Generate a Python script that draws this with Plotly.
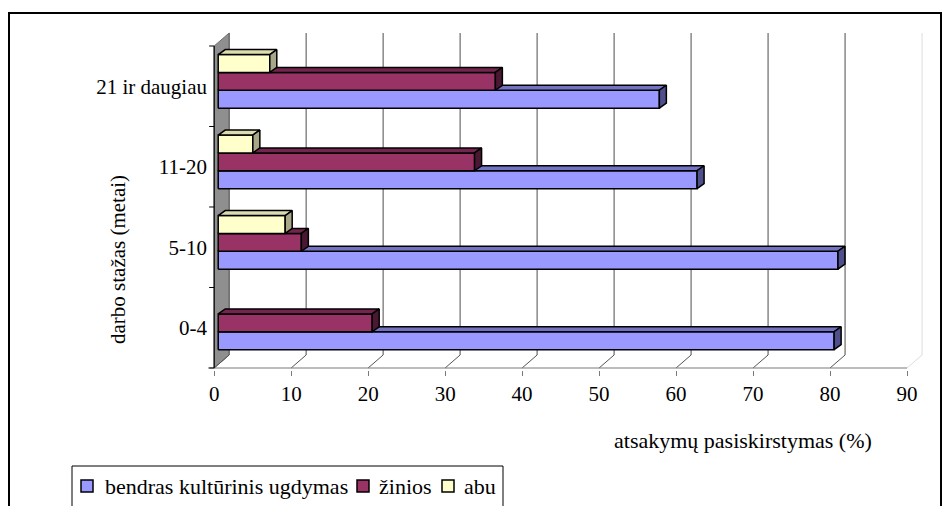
import plotly.graph_objects as go

# Work experience groups (bottom to top) and answer shares in percent
categories = ["0-4", "5-10", "11-20", "21 ir daugiau"]
bendras = [80.0, 80.5, 62.2, 57.3]
zinios = [20.0, 10.8, 33.3, 36.0]
abu = [0.0, 8.7, 4.5, 6.7]

series_names = ["bendras kultūrinis ugdymas", "žinios", "abu"]
x_ticks = [0, 10, 20, 30, 40, 50, 60, 70, 80, 90]

# Canvas / plot geometry
W, H = 942, 506
L, R, T, B = 208, 18, 31, 136
PW, PH = W - L - R, H - T - B
XR = [-0.8, 92.2]
UX = PW / (XR[1] - XR[0])          # px per x unit
UY = 80.5                          # px per category step
YR = [-0.525, -0.525 + PH / UY]

DX, DY = 15 / UX, 13 / UY          # depth of the 3-D box (data units)
BX0 = 0.27 * DX                    # bars start slightly inside the box
DXB, DYB = 7 / UX, 5 / UY          # depth of a bar
BAR_W = 0.222
slots = [-0.272, -0.050, 0.172]

FONT = "'Liberation Serif', 'Times New Roman', 'DejaVu Serif', serif"
face_cols = [
    ("#9999FF", "#7373C4", "#4F4F8C"),
    ("#993366", "#73264D", "#4A1832"),
    ("#FFFFCC", "#DCDCB0", "#A8A888"),
]


def px_x(px):
    return (px - L) / PW


def px_y(py):
    return 1 - (py - T) / PH


def add_poly(xs, ys, pts):
    for p in pts + [pts[0]]:
        xs.append(p[0])
        ys.append(p[1])
    xs.append(None)
    ys.append(None)


fig = go.Figure()

# Left (grey) wall
fig.add_trace(go.Scatter(
    x=[0, DX, DX, 0, 0], y=[-0.5, -0.5 + DY, 3.5 + DY, 3.5, -0.5],
    fill="toself", fillcolor="#8F8F8F", mode="lines",
    line=dict(color="#6E6E6E", width=1), hoverinfo="skip"))

# Back-wall gridlines and floor lines
gx, gy, fx, fy = [], [], [], []
for v in x_ticks[:-1]:
    gx += [v + DX, v + DX, None]
    gy += [-0.5 + DY, 3.5 + DY, None]
    fx += [v, v + DX, None]
    fy += [-0.5, -0.5 + DY, None]
fig.add_trace(go.Scatter(x=gx, y=gy, mode="lines",
                         line=dict(color="#6A6A6A", width=1.2), hoverinfo="skip"))
fig.add_trace(go.Scatter(x=fx, y=fy, mode="lines",
                         line=dict(color="#555555", width=1), hoverinfo="skip"))
v = x_ticks[-1]
fig.add_trace(go.Scatter(x=[v + DX, v + DX, None, v, v + DX],
                         y=[-0.5 + DY, 3.5 + DY, None, -0.5, -0.5 + DY],
                         mode="lines", line=dict(color="#DDDDDD", width=1),
                         hoverinfo="skip"))

# 3-D bars: front, top and side faces for every series
for si, vals in enumerate([bendras, zinios, abu]):
    front, top, side = ([], []), ([], []), ([], [])
    for k, val in enumerate(vals):
        if val <= 0:
            continue
        x0, x1 = BX0, BX0 + val
        y0 = k + slots[si]
        y1 = y0 + BAR_W
        add_poly(*front, [(x0, y0), (x1, y0), (x1, y1), (x0, y1)])
        add_poly(*top, [(x0, y1), (x1, y1), (x1 + DXB, y1 + DYB), (x0 + DXB, y1 + DYB)])
        add_poly(*side, [(x1, y0), (x1 + DXB, y0 + DYB), (x1 + DXB, y1 + DYB), (x1, y1)])
    for (xs, ys), col in zip([front, top, side], face_cols[si]):
        fig.add_trace(go.Scatter(
            x=xs, y=ys, fill="toself", fillcolor=col, mode="lines",
            line=dict(color="black", width=1.5), name=series_names[si],
            hoverinfo="skip"))

shapes = []
# front axis line
shapes.append(dict(type="line", xref="x", yref="y", x0=XR[0], x1=90, y0=-0.5, y1=-0.5,
                   line=dict(color="#7A7A7A", width=1.2)))
# front edge of the wall with category boundary ticks
shapes.append(dict(type="line", xref="x", yref="y", x0=0, x1=0, y0=-0.5, y1=3.5,
                   line=dict(color="black", width=1.2)))
for b in [-0.5, 0.5, 1.5, 2.5, 3.5]:
    shapes.append(dict(type="line", xref="x", yref="y", x0=-5 / UX, x1=0, y0=b, y1=b,
                       line=dict(color="black", width=1)))

# outer frame
shapes.append(dict(type="rect", xref="paper", yref="paper",
                   x0=px_x(9), x1=px_x(941), y0=px_y(13), y1=px_y(530),
                   line=dict(color="black", width=2)))

# legend
shapes.append(dict(type="rect", xref="paper", yref="paper",
                   x0=px_x(72), x1=px_x(503), y0=px_y(466), y1=px_y(530),
                   line=dict(color="black", width=1)))
annotations = []
legend_items = [(81, 103), (357, 377), (442, 462)]
for (sq, tx), name, cols in zip(legend_items, series_names, face_cols):
    shapes.append(dict(type="rect", xref="paper", yref="paper",
                       x0=px_x(sq), x1=px_x(sq + 12), y0=px_y(480), y1=px_y(492),
                       fillcolor=cols[0], line=dict(color="black", width=1.5)))
    annotations.append(dict(xref="paper", yref="paper", x=px_x(tx), y=px_y(486),
                            text=name, showarrow=False, xanchor="left", yanchor="middle",
                            font=dict(family=FONT, size=22, color="black")))

# axis titles
annotations.append(dict(xref="paper", yref="paper", x=px_x(743), y=px_y(440),
                        text="atsakymų pasiskirstymas (%)", showarrow=False,
                        xanchor="center", yanchor="middle",
                        font=dict(family=FONT, size=22, color="black")))
annotations.append(dict(xref="paper", yref="paper", x=px_x(118), y=px_y(260),
                        text="darbo stažas (metai)", showarrow=False, textangle=-90,
                        xanchor="center", yanchor="middle",
                        font=dict(family=FONT, size=21, color="black")))

fig.update_layout(
    width=W, height=H,
    margin=dict(l=L, r=R, t=T, b=B, pad=0),
    paper_bgcolor="white", plot_bgcolor="white",
    showlegend=False,
    font=dict(family=FONT),
    shapes=shapes, annotations=annotations,
    xaxis=dict(range=XR, tickvals=x_ticks, ticktext=[str(t) for t in x_ticks],
               showgrid=False, zeroline=False, showline=False,
               ticks="outside", ticklen=5, tickcolor="#7A7A7A",
               tickfont=dict(family=FONT, size=21, color="black")),
    yaxis=dict(range=YR, tickvals=list(range(len(categories))), ticktext=categories,
               showgrid=False, zeroline=False, showline=False, ticks="",
               tickfont=dict(family=FONT, size=21, color="black")),
)

fig.write_html("out.html")
